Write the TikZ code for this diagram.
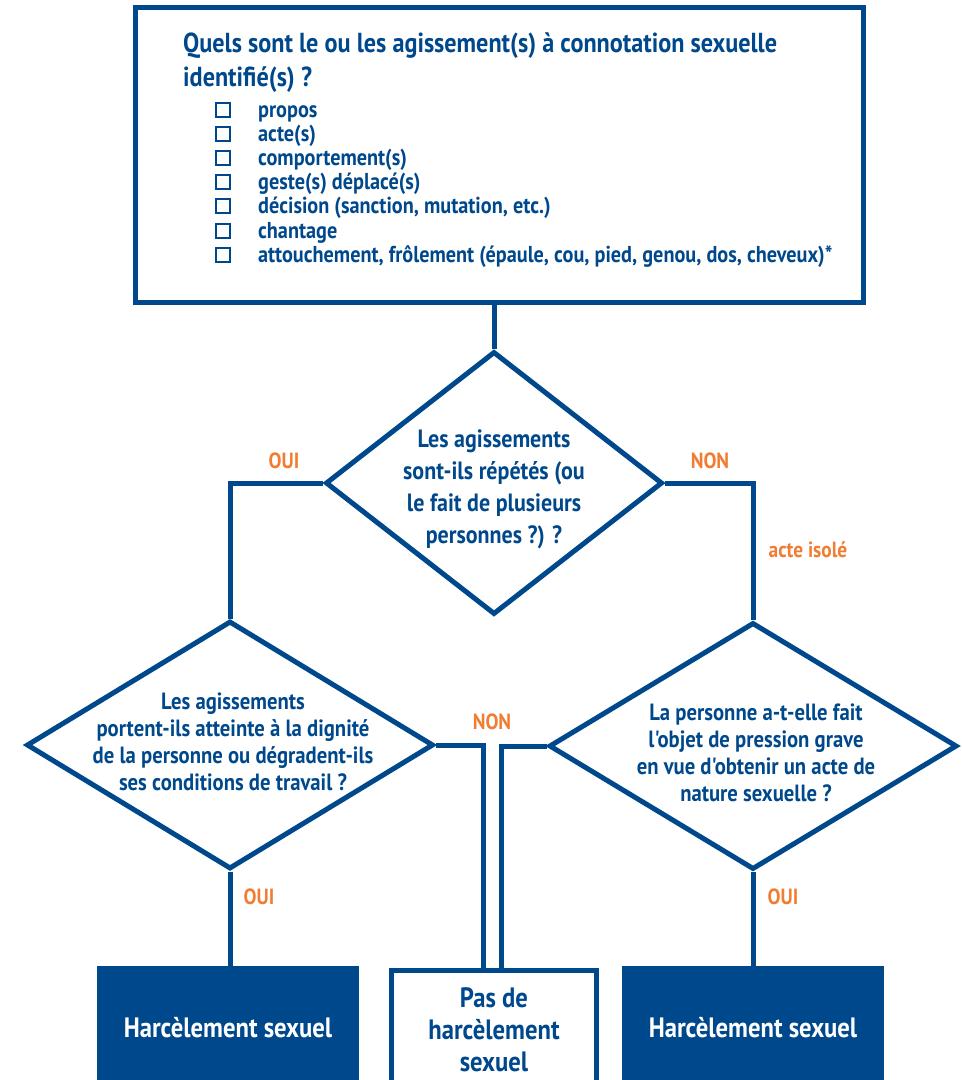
\documentclass[tikz,border=0pt]{standalone}
\usepackage{fontspec}
\setmainfont{PT Sans}[FakeStretch=0.88, Ligatures=TeXOff]
\usetikzlibrary{shapes.geometric, positioning}
\definecolor{bleuinrs}{RGB}{0,72,140}
\definecolor{orangeinrs}{RGB}{240,125,50}

\begin{document}
\begin{tikzpicture}[
    x=1pt, y=-1pt,
    every node/.style={text=bleuinrs},
    question/.style={diamond, draw=bleuinrs, line width=5pt, inner sep=0pt},
    texte/.style={align=center, font=\bfseries\fontsize{23.5}{27}\selectfont},
    reponse/.style={text=orangeinrs, font=\bfseries\fontsize{22}{24}\selectfont},
    resultat/.style={rectangle, draw=bleuinrs, line width=5pt, fill=bleuinrs, text=white,
        minimum width=257pt, minimum height=120pt, align=center,
        font=\bfseries\fontsize{28}{32}\selectfont},
    lien/.style={draw=bleuinrs, line width=5pt}
]
\useasboundingbox (0,0) rectangle (962,1080);

% cadre du haut
\node[draw=bleuinrs, line width=5pt, minimum width=728pt, minimum height=295pt] (cadre) at (499.5,155) {};
\node[anchor=north west, align=left, inner sep=0pt, font=\bfseries\fontsize{27.5}{34}\selectfont] (titre) at (183,32)
    {Quels sont le ou les agissement(s) à connotation sexuelle\\identifié(s) ?};
\foreach \y/\mot [count=\i] in {117/propos, 141/acte(s), 165/comportement(s), 189/geste(s) déplacé(s),
    213/{décision (sanction, mutation, etc.)}, 238/chantage,
    262/{attouchement, frôlement (épaule, cou, pied, genou, dos, cheveux)*}}
{
    \node[draw=bleuinrs, line width=2pt, minimum size=14pt, inner sep=0pt] (case\i) at (223,\y-7.5) {};
    \node[anchor=base west, inner sep=0pt, font=\bfseries\fontsize{23}{24}\selectfont] (item\i) at (258,\y) {\mot};
}

% questions
\node[question, minimum width=337pt, minimum height=263pt] (q1) at (494,483) {};
\node[texte, font=\bfseries\fontsize{25}{32}\selectfont] (q1txt) at (494,489)
    {Les agissements\\sont-ils répétés (ou\\le fait de plusieurs\\personnes ?) ?};
\node[question, minimum width=407pt, minimum height=248pt] (q2) at (230,745) {};
\node[texte] (q2txt) at (233,742)
    {Les agissements\\portent-ils atteinte à la dignité\\de la personne ou dégradent-ils\\ses conditions de travail ?};
\node[question, minimum width=408pt, minimum height=247pt] (q3) at (753,746) {};
\node[texte] (q3txt) at (756,753)
    {La personne a-t-elle fait\\l'objet de pression grave\\en vue d'obtenir un acte de\\nature sexuelle ?};

% resultats
\node[resultat] (harc1) at (228,1028) {Harcèlement sexuel};
\node[resultat, fill=white, text=bleuinrs, minimum width=205pt] (pas) at (494,1030) {Pas de\\harcèlement\\sexuel};
\node[resultat] (harc2) at (753,1028) {Harcèlement sexuel};

% liens
\draw[lien] (cadre.south -| q1.north) -- (q1.north);
\draw[lien] (q1.west) -| (q2.north);
\draw[lien] (q1.east) -| (q3.north);
\draw[lien] (q2.south) -- (q2.south |- harc1.north);
\draw[lien] (q3.south) -- (q3.south |- harc2.north);
\draw[lien] (q2.east) -| ([xshift=-11pt]pas.north);
\draw[lien] (q3.west) -| ([xshift=7pt]pas.north);

% reponses
\node[reponse] (oui1) at (284,461) {OUI};
\node[reponse] (non1) at (710,461) {NON};
\node[reponse] (isole) at (808,550) {acte isolé};
\node[reponse] (non2) at (492,722) {NON};
\node[reponse] (oui2) at (259,897) {OUI};
\node[reponse] (oui3) at (783,897) {OUI};

\end{tikzpicture}
\end{document}
